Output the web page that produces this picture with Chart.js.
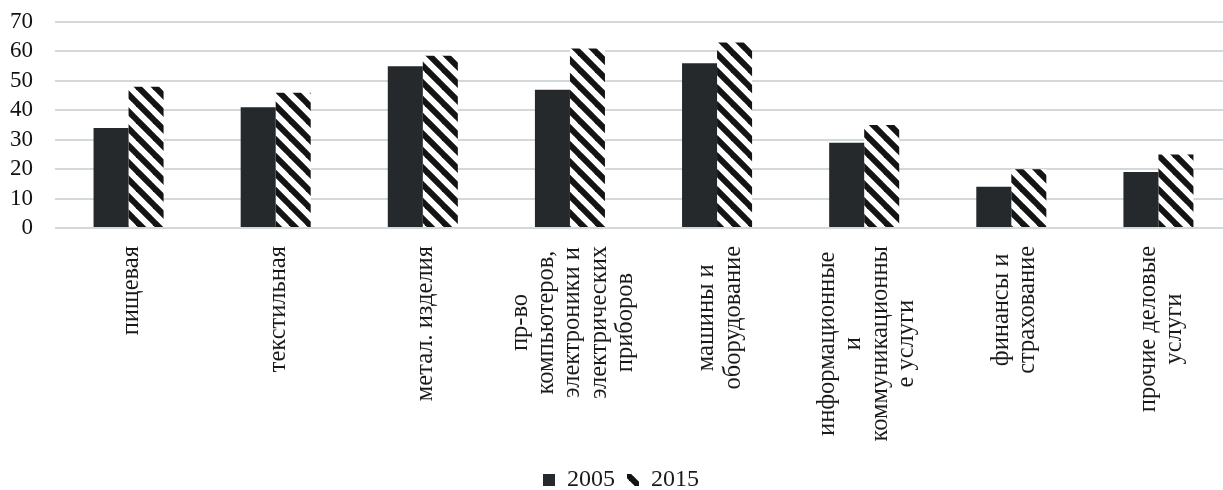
<!DOCTYPE html>
<html>
<head>
<meta charset="utf-8">
<script src="https://cdn.jsdelivr.net/npm/chart.js@4.4.1/dist/chart.umd.min.js"></script>
<style>
  html, body { margin: 0; padding: 0; background: #fff; overflow: hidden; }
  #wrap { position: relative; width: 1236px; height: 502px; }
</style>
</head>
<body>
<div id="wrap"><canvas id="c"></canvas></div>
<script>
// Industry categories (each entry is the list of wrapped lines of the label)
const categories = [
  ["пищевая"],
  ["текстильная"],
  ["метал. изделия"],
  ["пр-во", "компьютеров,", "электроники и", "электрических", "приборов"],
  ["машины и", "оборудование"],
  ["информационные", "и", "коммуникационны", "е услуги"],
  ["финансы и", "страхование"],
  ["прочие деловые", "услуги"]
];
const seriesNames = ["2005", "2015"];
const values2005 = [34, 41, 55, 47, 56, 29, 14, 19];
const values2015 = [48, 46, 58.5, 61, 63, 35, 20, 25];
const yMin = 0, yMax = 70, yStep = 10;

const SERIF = '"Liberation Serif", "Times New Roman", serif';
const LABEL_SIZE = 24.5;
const LABEL_LINE = 26.3;
const LABEL_GAP = 18;
const LABEL_SHIFT = 3;

// White tile with a black "\" diagonal stripe, repeated over the 2015 bars
function stripePattern() {
  const s = 17;
  const c = document.createElement('canvas');
  c.width = s; c.height = s;
  const g = c.getContext('2d');
  g.fillStyle = '#ffffff';
  g.fillRect(0, 0, s, s);
  g.strokeStyle = '#141414';
  g.lineWidth = 6;
  for (const o of [-s, 0, s]) {
    g.beginPath();
    g.moveTo(o - 2, -2);
    g.lineTo(o + s + 2, s + 2);
    g.stroke();
  }
  return g.createPattern(c, 'repeat');
}

// Category labels: vertical text, each wrapped line centred on the block
const centeredCategoryLabels = {
  id: 'centeredCategoryLabels',
  afterDraw(chart) {
    const sc = chart.scales.x;
    const ctx = chart.ctx;
    ctx.save();
    ctx.font = LABEL_SIZE + 'px ' + SERIF;
    ctx.fillStyle = '#1a1a1a';
    ctx.textAlign = 'center';
    ctx.textBaseline = 'middle';
    categories.forEach((lines, i) => {
      const x = sc.getPixelForTick(i) + LABEL_SHIFT;
      const w = Math.max(...lines.map(l => ctx.measureText(l).width));
      ctx.save();
      ctx.translate(x, sc.top + LABEL_GAP);
      ctx.rotate(-Math.PI / 2);
      lines.forEach((l, j) => {
        ctx.fillText(l, -w / 2, (j - (lines.length - 1) / 2) * LABEL_LINE);
      });
      ctx.restore();
    });
    ctx.restore();
  }
};

new Chart(document.getElementById('c'), {
  type: 'bar',
  data: {
    labels: categories,
    datasets: [
      {
        label: seriesNames[0],
        data: values2005,
        backgroundColor: '#26292b',
        borderWidth: 0,
        categoryPercentage: 0.476,
        barPercentage: 1
      },
      {
        label: seriesNames[1],
        data: values2015,
        backgroundColor: stripePattern(),
        borderWidth: 0,
        categoryPercentage: 0.476,
        barPercentage: 1
      }
    ]
  },
  options: {
    responsive: true,
    maintainAspectRatio: false,
    animation: false,
    layout: { padding: { left: 10, right: 4, top: 22, bottom: 0 } },
    plugins: {
      tooltip: { enabled: false },
      legend: {
        position: 'bottom',
        labels: {
          font: { family: SERIF, size: 24 },
          color: '#1a1a1a',
          boxWidth: 12,
          boxHeight: 12,
          padding: 12
        }
      }
    },
    scales: {
      x: {
        grid: { display: false },
        border: { display: false },
        ticks: { display: false },
        afterFit(scale) { scale.height = 228; }
      },
      y: {
        min: yMin,
        max: yMax,
        ticks: {
          stepSize: yStep,
          autoSkip: false,
          padding: 22,
          color: '#111111',
          font: { family: SERIF, size: 23 }
        },
        grid: { color: '#d3d8da', lineWidth: 2, drawTicks: false },
        border: { display: false },
        afterFit(scale) {
          scale.width = 45;
          scale.paddingTop = 0;
          scale.paddingBottom = 0;
        }
      }
    }
  },
  plugins: [centeredCategoryLabels]
});
</script>
</body>
</html>
